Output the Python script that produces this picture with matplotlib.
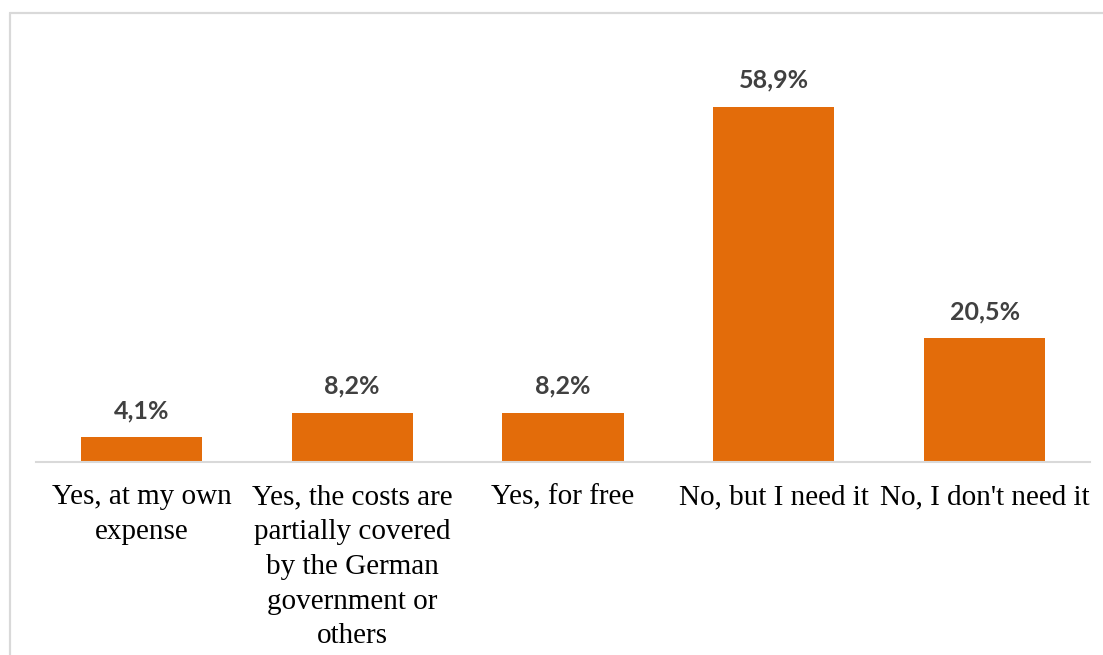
import matplotlib
matplotlib.use("Agg")
import matplotlib.pyplot as plt
from matplotlib.patches import Rectangle

categories = ["Yes, at my own\nexpense",
              "Yes, the costs are\npartially covered\nby the German\ngovernment or\nothers",
              "Yes, for free",
              "No, but I need it",
              "No, I don't need it"]
values = [4.1, 8.2, 8.2, 58.9, 20.5]
value_labels = ["4,1%", "8,2%", "8,2%", "58,9%", "20,5%"]

W, H = 1103, 655
fig = plt.figure(figsize=(W / 100, H / 100), dpi=100)

# outer light frame
fig.patches.append(Rectangle((10 / W, 1 - 13 / H), 2, -2, transform=fig.transFigure,
                             fill=False, edgecolor="#d9d9d9", linewidth=1.5))
fig.patches.append(Rectangle((10 / W, -1), 2, 1 - 13 / H + 1, transform=fig.transFigure,
                             fill=False, edgecolor="#d9d9d9", linewidth=1.5))

left, right = 36, 1090
bottom, top = 462, 40
ax = fig.add_axes([left / W, 1 - bottom / H, (right - left) / W, (bottom - top) / H])
x = list(range(len(values)))
ax.bar(x, values, width=0.575, color="#E36C0A")
ax.set_xlim(-0.5, len(values) - 0.5)
ymax = (bottom - top) / (355 / 58.9)
ax.set_ylim(0, ymax)

for xi, v, lab in zip(x, values, value_labels):
    ax.annotate(lab, (xi, v), xytext=(0, 11), textcoords="offset points",
                ha="center", va="bottom", fontsize=18, fontweight="bold",
                color="#404040", family="Lato")

for s in ["top", "right", "left"]:
    ax.spines[s].set_visible(False)
ax.spines["bottom"].set_color("#d9d9d9")
ax.spines["bottom"].set_linewidth(1.5)
ax.set_yticks([])
ax.set_xticks(x)
ax.set_xticklabels(categories, family="Liberation Serif", fontsize=21,
                   color="#000000", linespacing=1.44)
ax.tick_params(axis="x", length=0, pad=16)
ax.patch.set_visible(False)

fig.savefig("out.png", dpi=100)
